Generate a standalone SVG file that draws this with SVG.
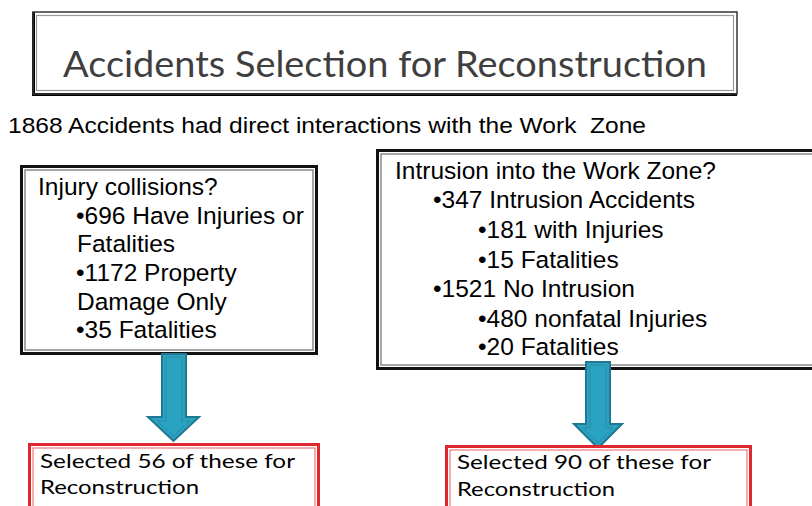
<svg xmlns="http://www.w3.org/2000/svg" width="812" height="506" viewBox="0 0 812 506">
<style>
.fo{fill:none;stroke:#111;stroke-width:3}
.fi{fill:none;stroke:#8a8a8a;stroke-width:1.5}
.ro{fill:none;stroke:#e0262e;stroke-width:3}
.ri{fill:none;stroke:#e77;stroke-width:1.2}
.ar{font-family:"Liberation Sans",Arial,sans-serif;font-size:24.5px;fill:#000}
.sub{font-family:"Liberation Sans",Arial,sans-serif;font-size:22px;fill:#000}
.cal{font-family:Lato,"Open Sans",sans-serif;font-size:20px;fill:#000}
.arrow{fill:#2aa2c2;stroke:#1f7891;stroke-width:2;stroke-linejoin:miter}
.arrowin{fill:none;stroke:#2c8aa6;stroke-width:1}
</style>
<rect width="812" height="506" fill="#fff"/>
<g id="title">
  <rect x="33" y="12" width="704" height="82" fill="#fff"/>
  <path d="M33.5 12 V94.5 H737" fill="none" stroke="#000" stroke-width="3"/>
  <rect x="33" y="12" width="704" height="82" fill="none" stroke="#333" stroke-width="1.5"/>
  <rect x="36.5" y="15.5" width="697" height="75" fill="none" stroke="#999" stroke-width="1.2"/>
  <text x="63" y="77" font-family="Lato,'Open Sans',sans-serif" font-size="36" fill="#3f3f3f" textLength="644" lengthAdjust="spacingAndGlyphs">Accidents Selection for Reconstruction</text>
</g>
<g id="subtitle">
  <text x="8" y="133" class="sub" style="white-space:pre" textLength="638" lengthAdjust="spacingAndGlyphs">1868 Accidents had direct interactions with the Work  Zone</text>
</g>
<g id="injury">
  <rect x="20" y="165" width="298" height="190" fill="#fff"/>
  <rect x="21.5" y="166.5" width="295" height="187" class="fo"/>
  <rect x="25" y="170" width="288" height="180" class="fi"/>
  <text class="ar" x="38" y="195">Injury collisions?</text>
  <text class="ar" x="76" y="224">•696 Have Injuries or</text>
  <text class="ar" x="77" y="252">Fatalities</text>
  <text class="ar" x="76" y="281">•1172 Property</text>
  <text class="ar" x="77" y="310">Damage Only</text>
  <text class="ar" x="76" y="338">•35 Fatalities</text>
</g>
<g id="intrusion">
  <rect x="376" y="149" width="450" height="221" fill="#fff"/>
  <rect x="377.5" y="150.5" width="450" height="218" class="fo"/>
  <rect x="381" y="154" width="450" height="211" class="fi"/>
  <text class="ar" x="395" y="179">Intrusion into the Work Zone?</text>
  <text class="ar" x="433" y="208">•347 Intrusion Accidents</text>
  <text class="ar" x="478" y="238">•181 with Injuries</text>
  <text class="ar" x="478" y="268">•15 Fatalities</text>
  <text class="ar" x="433" y="297">•1521 No Intrusion</text>
  <text class="ar" x="478" y="327">•480 nonfatal Injuries</text>
  <text class="ar" x="478" y="355">•20 Fatalities</text>
</g>
<g id="connectors">
  <path class="arrow" d="M162 354 H186 V417 H199 L173.5 441 L148 417 H162 Z"/>
  <path class="arrowin" d="M166 357 H182 V421 H190 L173.5 436 L157 421 H166 Z"/>
  <path class="arrow" d="M586 362 H610 V424 H622 L598 448 L574 424 H586 Z"/>
  <path class="arrowin" d="M590 365 H606 V428 H613 L598 443 L583 428 H590 Z"/>
</g>
<g id="selected56">
  <rect x="28" y="443" width="292" height="80" fill="#fff"/>
  <rect x="29.5" y="444.5" width="289" height="80" class="ro"/>
  <rect x="33" y="448" width="282" height="80" class="ri"/>
  <text class="cal" x="40" y="468" textLength="255" lengthAdjust="spacingAndGlyphs">Selected 56 of these for</text>
  <text class="cal" x="40" y="494" textLength="159" lengthAdjust="spacingAndGlyphs">Reconstruction</text>
</g>
<g id="selected90">
  <rect x="445" y="445" width="307" height="80" fill="#fff"/>
  <rect x="446.5" y="446.5" width="304" height="80" class="ro"/>
  <rect x="450" y="450" width="297" height="80" class="ri"/>
  <text class="cal" x="457" y="469" textLength="254" lengthAdjust="spacingAndGlyphs">Selected 90 of these for</text>
  <text class="cal" x="457" y="496" textLength="158" lengthAdjust="spacingAndGlyphs">Reconstruction</text>
</g>
</svg>
